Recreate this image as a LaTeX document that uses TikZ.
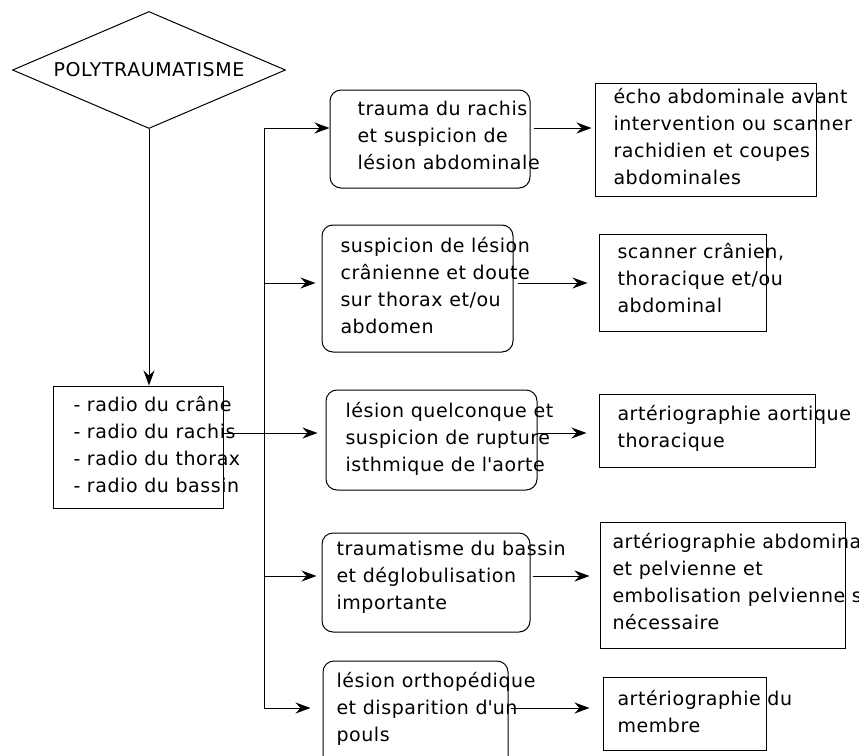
\documentclass[tikz,border=0pt]{standalone}
\usepackage{fontspec}
\setmainfont[LetterSpace=3]{DejaVu Sans}
\usetikzlibrary{arrows.meta,shapes.geometric}
\begin{document}
\begin{tikzpicture}[x=1pt,y=-1pt,line width=1pt,
  every node/.style={inner sep=0pt},
  txt/.style={anchor=north west, align=left, font=\fontsize{19}{27}\selectfont},
  rbox/.style={draw, rounded corners=11pt},
  sbox/.style={draw},
  arr/.style={-{Stealth[length=15pt,width=11pt,inset=5pt]}}]
\useasboundingbox (0,0) rectangle (859,755);
\newcommand{\fs}{\rule{0pt}{20pt}}
% diamond
\node[diamond, draw, aspect=2.3, minimum width=273pt, minimum height=117pt,
      font=\fontsize{19}{27}\selectfont] (d) at (149,70) {POLYTRAUMATISME};
% list box
\node[sbox, minimum width=170pt, minimum height=122pt] (lb) at (138,447) {};
\node[txt] (lbt) at (73,391) {\fs- radio du crâne\\- radio du rachis\\- radio du thorax\\- radio du bassin};
% rounded boxes
\node[rbox, minimum width=200pt, minimum height=98pt] (r1) at (430,139) {};
\node[rbox, minimum width=191pt, minimum height=127pt] (r2) at (417.5,288.5) {};
\node[rbox, minimum width=211pt, minimum height=100pt] (r3) at (431.5,440) {};
\node[rbox, minimum width=208pt, minimum height=99pt] (r4) at (426,582.5) {};
\node[rbox, minimum width=185pt, minimum height=114pt] (r5) at (415.5,718) {};
\node[txt] (r1t) at (357,95) {\fs trauma du rachis\\et suspicion de\\lésion abdominale};
\node[txt] (r2t) at (340,232) {\fs suspicion de lésion\\crânienne et doute\\sur thorax et/ou\\abdomen};
\node[txt] (r3t) at (345,397) {\fs lésion quelconque et\\suspicion de rupture\\isthmique de l\textquotesingle aorte};
\node[txt] (r4t) at (336,535) {\fs traumatisme du bassin\\et déglobulisation\\importante};
\node[txt] (r5t) at (336,667) {\fs lésion orthopédique\\et disparition d\textquotesingle un\\pouls};
% right boxes
\node[sbox, minimum width=221pt, minimum height=113pt] (R1) at (705.5,139.5) {};
\node[sbox, minimum width=167pt, minimum height=97pt] (R2) at (682.5,282.5) {};
\node[sbox, minimum width=216pt, minimum height=73pt] (R3) at (707,430.5) {};
\node[sbox, minimum width=245pt, minimum height=126pt] (R4) at (722.5,585) {};
\node[sbox, minimum width=163pt, minimum height=73pt] (R5) at (684.5,713.5) {};
\node[txt] (R1t) at (613,83) {\fs écho abdominale avant\\intervention ou scanner\\rachidien et coupes\\abdominales};
\node[txt] (R2t) at (617,238) {\fs scanner crânien,\\thoracique et/ou\\abdominal};
\node[txt] (R3t) at (617,400) {\fs artériographie aortique\\thoracique};
\node[txt] (R4t) at (612,528) {\fs artériographie abdominale\\et pelvienne et\\embolisation pelvienne si\\nécessaire};
\node[txt] (R5t) at (617,685) {\fs artériographie du\\membre};
% trunk
\coordinate (t1) at (264,128);
\coordinate (t2) at (264,283);
\coordinate (t3) at (264,433);
\coordinate (t4) at (264,576);
\coordinate (t5) at (264,708);
\draw[arr] (d.south) -- (d.south |- lb.north);
\draw (t1) -- (t5);
\draw[arr] (t1) -- (t1 -| r1.west);
\draw[arr, shorten >=6pt] (t2) -- (t2 -| r2.west);
\draw[arr, shorten >=8pt] (lb.east |- t3) -- (t3 -| r3.west);
\draw[arr, shorten >=5pt] (t4) -- (t4 -| r4.west);
\draw[arr, shorten >=12pt] (t5) -- (t5 -| r5.west);
% right arrows
\draw[arr, shorten <=3pt, shorten >=3pt] (r1.east |- t1) -- (t1 -| R1.west);
\draw[arr, shorten <=4pt, shorten >=11pt] (r2.east |- t2) -- (t2 -| R2.west);
\draw[arr, shorten >=12pt] (r3.east |- t3) -- (t3 -| R3.west);
\draw[arr, shorten <=2pt, shorten >=10pt] (r4.east |- t4) -- (t4 -| R4.west);
\draw[arr, shorten <=2pt, shorten >=13pt] (r5.east |- t5) -- (t5 -| R5.west);
\end{tikzpicture}
\end{document}
